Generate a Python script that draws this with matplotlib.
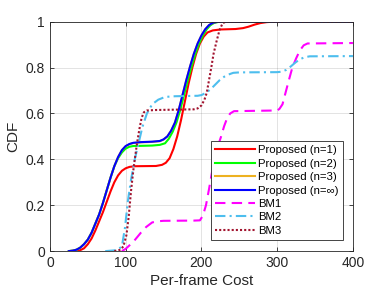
import matplotlib
matplotlib.use("Agg")
import matplotlib.pyplot as plt

plt.rcParams["font.family"] = ["Liberation Sans", "DejaVu Sans"]

# Proposed (n=1)
p1_x = [35, 40, 45, 50, 55, 60, 65, 70, 75, 80, 85, 90, 95, 100, 105, 112, 140, 148, 153,
        158, 163, 168, 173, 178, 183, 188, 193, 198, 203, 208, 215, 225, 245, 255, 262,
        270, 278, 286, 295, 400]
p1_y = [0, 0.004, 0.012, 0.03, 0.055, 0.09, 0.13, 0.17, 0.215, 0.26, 0.3, 0.33, 0.35,
        0.361, 0.367, 0.37, 0.371, 0.376, 0.385, 0.405, 0.445, 0.5, 0.57, 0.65, 0.73, 0.8,
        0.86, 0.905, 0.935, 0.953, 0.962, 0.966, 0.968, 0.972, 0.978, 0.987, 0.994, 0.998,
        1.0, 1.0]

# Proposed (n=2)
p2_x = [25, 30, 35, 40, 45, 50, 55, 60, 65, 70, 75, 80, 85, 90, 95, 100, 105, 110, 135,
        145, 152, 157, 162, 167, 172, 177, 182, 187, 192, 197, 202, 207, 212, 217, 224, 400]
p2_y = [0, 0.002, 0.006, 0.015, 0.03, 0.05, 0.08, 0.12, 0.16, 0.21, 0.265, 0.32, 0.37,
        0.405, 0.43, 0.447, 0.455, 0.458, 0.46, 0.463, 0.47, 0.49, 0.52, 0.56, 0.615, 0.68,
        0.745, 0.805, 0.86, 0.905, 0.94, 0.967, 0.985, 0.995, 1.0, 1.0]

# Proposed (n=3)
p3_x = [25, 30, 35, 40, 45, 50, 55, 60, 65, 70, 75, 80, 85, 90, 95, 100, 105, 110, 120,
        135, 145, 150, 155, 160, 165, 170, 175, 180, 185, 190, 195, 200, 205, 210, 215,
        222, 400]
p3_y = [0, 0.002, 0.006, 0.015, 0.03, 0.05, 0.08, 0.12, 0.16, 0.21, 0.265, 0.32, 0.37,
        0.41, 0.44, 0.457, 0.466, 0.471, 0.474, 0.476, 0.479, 0.486, 0.5, 0.525, 0.56,
        0.615, 0.68, 0.745, 0.805, 0.86, 0.905, 0.94, 0.967, 0.985, 0.995, 1.0, 1.0]

# Proposed (n=inf)
pi_x = [25, 30, 35, 40, 45, 50, 55, 60, 65, 70, 75, 80, 85, 90, 95, 100, 105, 110, 120,
        135, 145, 150, 155, 160, 165, 170, 175, 180, 185, 190, 195, 200, 205, 210, 215,
        222, 400]
pi_y = [0, 0.002, 0.006, 0.015, 0.03, 0.05, 0.08, 0.12, 0.16, 0.21, 0.265, 0.32, 0.37,
        0.41, 0.44, 0.458, 0.467, 0.472, 0.475, 0.477, 0.48, 0.487, 0.5, 0.525, 0.56,
        0.615, 0.68, 0.745, 0.805, 0.86, 0.905, 0.94, 0.967, 0.985, 0.995, 1.0, 1.0]

# BM1
bm1_x = [95, 100, 105, 110, 115, 120, 127, 135, 142, 150, 190, 198, 202, 206, 210, 214,
         218, 222, 226, 230, 234, 238, 243, 300, 303, 307, 311, 315, 320, 325, 330, 335,
         340, 400]
bm1_y = [0, 0.01, 0.025, 0.04, 0.06, 0.08, 0.105, 0.125, 0.13, 0.132, 0.133, 0.134, 0.155,
         0.2, 0.27, 0.345, 0.41, 0.46, 0.5, 0.545, 0.58, 0.6, 0.61, 0.613, 0.62, 0.64,
         0.69, 0.74, 0.8, 0.84, 0.875, 0.897, 0.905, 0.907]

# BM2
bm2_x = [73, 85, 90, 95, 99, 103, 107, 112, 117, 122, 128, 135, 143, 152, 165, 195, 200,
         206, 212, 218, 224, 230, 236, 242, 250, 300, 306, 312, 318, 324, 330, 336, 343, 400]
bm2_y = [0, 0.003, 0.008, 0.02, 0.1, 0.22, 0.31, 0.4, 0.47, 0.54, 0.6, 0.64, 0.66, 0.672,
         0.675, 0.677, 0.68, 0.69, 0.705, 0.725, 0.745, 0.76, 0.77, 0.777, 0.779, 0.78,
         0.782, 0.79, 0.805, 0.822, 0.836, 0.845, 0.849, 0.85]

# BM3
bm3_x = [85, 92, 97, 101, 104, 107, 110, 112, 115, 118, 121, 124, 128, 140, 190, 195, 200,
         204, 207, 210, 213, 216, 220, 224, 228, 232, 400]
bm3_y = [0, 0.005, 0.02, 0.07, 0.15, 0.26, 0.35, 0.4, 0.47, 0.53, 0.58, 0.605, 0.613,
         0.615, 0.618, 0.622, 0.635, 0.66, 0.69, 0.745, 0.8, 0.86, 0.915, 0.965, 0.993,
         1.0, 1.0]

fig = plt.figure(figsize=(3.9, 2.93), dpi=100)
ax = fig.add_axes([0.128, 0.143, 0.777, 0.783])

lw = 1.5
ax.plot(p1_x, p1_y, color="#FF0000", lw=lw, label="Proposed (n=1)")
ax.plot(p2_x, p2_y, color="#00FF00", lw=lw, label="Proposed (n=2)")
ax.plot(p3_x, p3_y, color="#EDB120", lw=lw, label="Proposed (n=3)")
ax.plot(pi_x, pi_y, color="#0000FF", lw=lw, label="Proposed (n=\u221e)")
ax.plot(bm1_x, bm1_y, color="#FF00FF", lw=lw, ls=(0, (5, 3)), label="BM1")
ax.plot(bm2_x, bm2_y, color="#4DBEEE", lw=lw, ls=(0, (5, 2, 1, 2)), label="BM2")
ax.plot(bm3_x, bm3_y, color="#A2142F", lw=lw, ls=(0, (1, 1)), label="BM3")

ax.set_xlim(0, 400)
ax.set_ylim(0, 1)
ax.set_xticks([0, 100, 200, 300, 400])
ax.set_yticks([0, 0.2, 0.4, 0.6, 0.8, 1])
ax.set_yticklabels(["0", "0.2", "0.4", "0.6", "0.8", "1"])
ax.tick_params(direction="in", length=3, top=True, right=True, labelsize=10,
               colors="#262626", width=0.6)
for s in ax.spines.values():
    s.set_color("#262626")
    s.set_linewidth(0.6)
ax.grid(True, color="#262626", alpha=0.15, linewidth=0.6)
ax.set_axisbelow(True)
ax.set_xlabel("Per-frame Cost", fontsize=11, color="#262626", labelpad=3)
ax.set_ylabel("CDF", fontsize=11, color="#262626", labelpad=4)

leg = ax.legend(loc="lower right", bbox_to_anchor=(0.967, 0.049), borderaxespad=0,
                fontsize=8.2, handlelength=3.5, handletextpad=0.3, labelspacing=0.3,
                fancybox=False, framealpha=1, edgecolor="#262626", borderpad=0.35)
leg.get_frame().set_linewidth(0.6)

plt.savefig("out.png", dpi=100)
